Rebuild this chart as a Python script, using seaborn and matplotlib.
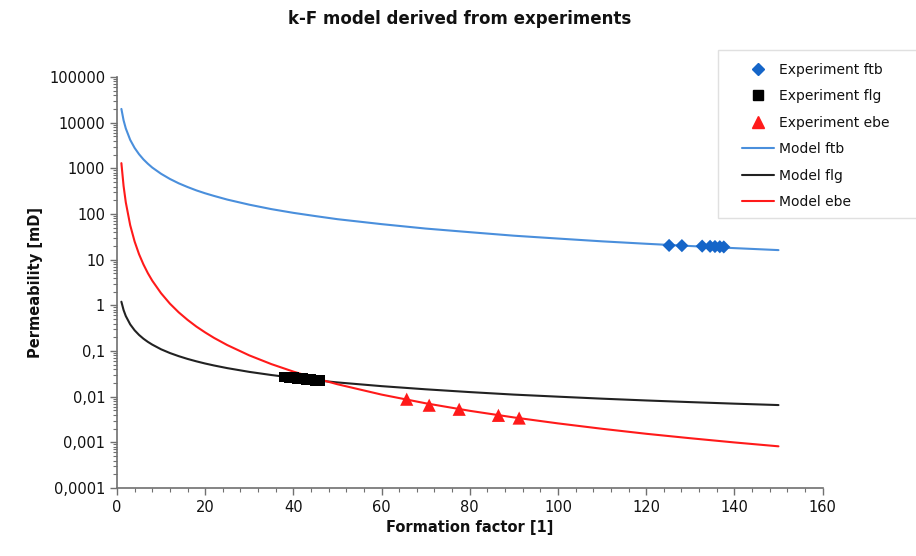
import matplotlib
matplotlib.use('Agg')
import matplotlib.pyplot as plt
from matplotlib.ticker import FixedLocator, MultipleLocator, LogLocator, NullFormatter
from matplotlib.lines import Line2D
from matplotlib.patches import Rectangle
import seaborn as sns
import pandas as pd

# model curves
F_model = [1, 1.5, 2, 3, 4, 5, 6, 7, 8, 10, 12, 14, 16, 18, 20, 22, 25, 30, 35, 40, 45, 50,
           60, 70, 80, 90, 100, 110, 120, 130, 140, 150]
k_model_ftb = [20000, 11240, 7480, 4200, 2800, 2040, 1570, 1262, 1040, 760, 586, 470, 390,
               329, 284, 249, 207, 160, 128, 106, 90, 77, 60, 48, 40, 33.5, 29, 25.2, 22.3,
               19.9, 17.9, 16.2]
k_model_flg = [1.2, 0.787, 0.583, 0.383, 0.284, 0.225, 0.186, 0.1585, 0.138, 0.109, 0.0903,
               0.0771, 0.0671, 0.0594, 0.0532, 0.0482, 0.0422, 0.0349, 0.0298, 0.0259,
               0.0229, 0.0205, 0.0170, 0.0145, 0.0126, 0.0111, 0.0100, 0.00904, 0.00826,
               0.00760, 0.00703, 0.00655]
k_model_ebe = [1300, 409, 180, 56.8, 25.0, 13.2, 7.88, 5.07, 3.47, 1.84, 1.09, 0.702, 0.481,
               0.343, 0.255, 0.194, 0.135, 0.0802, 0.0517, 0.0354, 0.0253, 0.0187, 0.0111,
               0.00716, 0.00490, 0.00351, 0.00260, 0.00198, 0.00154, 0.00123, 0.000995,
               0.000818]

# experiments
F_exp_ftb = [125.2, 128.1, 132.7, 134.5, 135.6, 136.7, 137.6]
k_exp_ftb = [20.5, 20.3, 19.8, 19.6, 19.4, 19.2, 19.0]
F_exp_flg = [38, 39, 40, 41, 42, 43, 44, 45, 46]
k_exp_flg = [0.027, 0.026, 0.026, 0.025, 0.025, 0.024, 0.024, 0.023, 0.023]
F_exp_ebe = [65.7, 70.8, 77.6, 86.5, 91.2]
k_exp_ebe = [0.0088, 0.0065, 0.0053, 0.0039, 0.0034]

yticks = [1e-4, 1e-3, 1e-2, 1e-1, 1, 10, 100, 1000, 10000, 100000]
ytick_labels = ['0,0001', '0,001', '0,01', '0,1', '1', '10', '100', '1000', '10000', '100000']

c_blue_line = '#4a8fdc'
c_blue_pt = '#1565c8'
c_red = '#ff1a1a'

sns.set_style('white')
plt.rcParams['font.family'] = ['DejaVu Sans']
plt.rcParams['text.color'] = '#111111'
plt.rcParams['axes.labelcolor'] = '#111111'
plt.rcParams['xtick.color'] = '#707070'
plt.rcParams['ytick.color'] = '#707070'

fig = plt.figure(figsize=(9.16, 5.56), dpi=100)
ax = fig.add_axes([0.1277, 0.1223, 0.898 - 0.1277, 0.8615 - 0.1223])

sns.lineplot(x=F_model, y=k_model_ftb, color=c_blue_line, lw=1.5, ax=ax)
sns.lineplot(x=F_model, y=k_model_flg, color='#222222', lw=1.5, ax=ax)
sns.lineplot(x=F_model, y=k_model_ebe, color=c_red, lw=1.5, ax=ax)

sns.scatterplot(x=F_exp_ftb, y=k_exp_ftb, marker='D', s=45, color=c_blue_pt, edgecolor='none', ax=ax, zorder=5)
sns.scatterplot(x=F_exp_flg, y=k_exp_flg, marker='s', s=60, color='black', edgecolor='none', ax=ax, zorder=5)
sns.scatterplot(x=F_exp_ebe, y=k_exp_ebe, marker='^', s=90, color=c_red, edgecolor='none', ax=ax, zorder=5)

ax.set_yscale('log')
ax.set_xlim(0, 160)
ax.set_ylim(1e-4, 1e5)
ax.xaxis.set_major_locator(MultipleLocator(20))
ax.xaxis.set_minor_locator(MultipleLocator(4))
ax.yaxis.set_major_locator(FixedLocator(yticks))
ax.yaxis.set_minor_locator(LogLocator(base=10, subs=range(2, 10), numticks=20))
ax.yaxis.set_minor_formatter(NullFormatter())
ax.set_yticklabels(ytick_labels)

for side in ['top', 'right']:
    ax.spines[side].set_visible(False)
for side in ['left', 'bottom']:
    ax.spines[side].set_color('#707070')
    ax.spines[side].set_linewidth(1.2)
ax.tick_params(which='major', direction='out', length=5, width=1,
               labelsize=10.5, labelcolor='#111111', bottom=True, left=True)
ax.tick_params(which='minor', direction='out', length=3, width=0.8,
               bottom=True, left=True)

ax.set_xlabel('Formation factor [1]', fontsize=10.5, fontweight='bold')
ax.set_ylabel('Permeability [mD]', fontsize=10.5, fontweight='bold')
fig.text(0.502, 0.966, 'k-F model derived from experiments', ha='center', va='center',
         fontsize=12, fontweight='bold')

handles = [
    Line2D([], [], ls='none', marker='D', color=c_blue_pt, markersize=6.5),
    Line2D([], [], ls='none', marker='s', color='black', markersize=7),
    Line2D([], [], ls='none', marker='^', color=c_red, markersize=8),
    Line2D([], [], color=c_blue_line, lw=1.5),
    Line2D([], [], color='#222222', lw=1.5),
    Line2D([], [], color=c_red, lw=1.5),
]
labels = ['Experiment ftb', 'Experiment flg', 'Experiment ebe',
          'Model ftb', 'Model flg', 'Model ebe']
# legend box spans to the right edge of the figure
fig.patches.append(Rectangle((718 / 916, 1 - 218 / 556), 200 / 916, 168 / 556,
                             transform=fig.transFigure, facecolor='white',
                             edgecolor='#e0e0e0', lw=1, zorder=0))
leg = fig.legend(handles, labels, loc='upper left', bbox_to_anchor=(0.799, 0.905),
                 borderaxespad=0, fontsize=10, frameon=False,
                 handlelength=2.3, handletextpad=0.4, labelspacing=0.9, borderpad=0.7)

fig.savefig('out.png', dpi=100)
